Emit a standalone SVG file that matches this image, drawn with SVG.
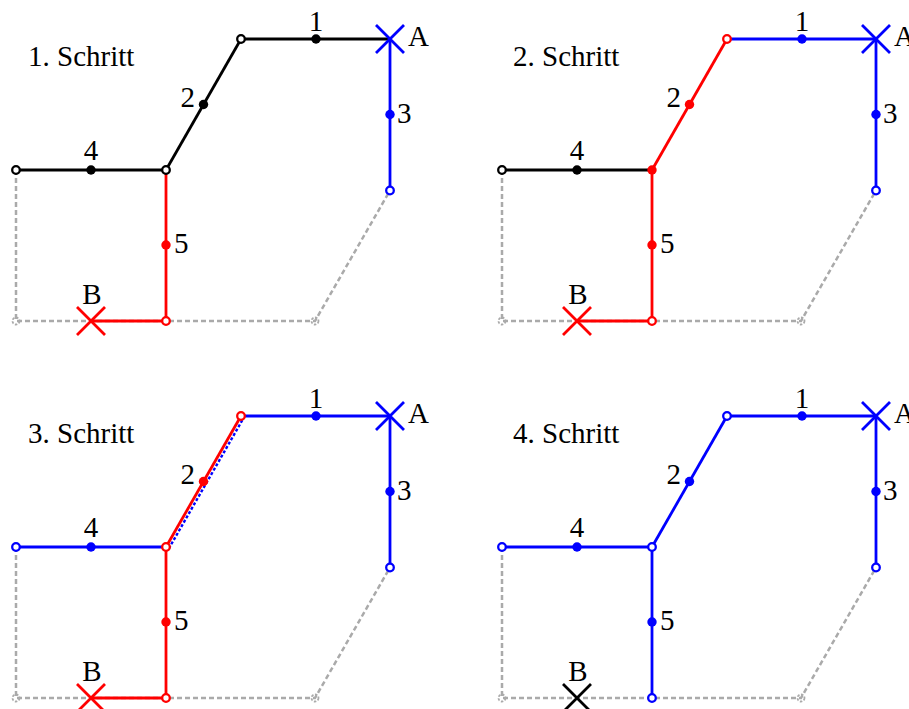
<svg xmlns="http://www.w3.org/2000/svg" width="909" height="709" viewBox="0 0 909 709">
<style>
  text { font-family: "Liberation Serif", "Times New Roman", serif; font-size: 29px; fill: #000; }
  .t { font-size: 29px; }
  .ln { fill: none; stroke-width: 2.8; stroke-linecap: butt; }
  .gray { fill: none; stroke: #aaaaaa; stroke-width: 2.5; stroke-dasharray: 5 3; }
  .gc { fill: none; stroke: #aaaaaa; stroke-width: 1.8; stroke-dasharray: 2.5 1.5; }
  .k { stroke: #000; } .b { stroke: #0000ff; } .r { stroke: #ff0000; }
  .dk { fill: #000; } .db { fill: #0000ff; } .dr { fill: #ff0000; }
  .o { fill: #fff; stroke-width: 2.3; }
  .x { stroke-width: 2.8; fill: none; }
  .bd { fill: none; stroke: #0000ff; stroke-width: 2.4; stroke-dasharray: 3 2; }
  .mid { text-anchor: middle; } .end { text-anchor: end; }
</style>

<!-- Panel 1 -->
<g id="panel1">
  <text class="t" x="28" y="66">1. Schritt</text>
  <g id="p1-connectors">
    <path class="gray" d="M16,170 V321 H315 L390,190.5"/>
    <circle class="gc" cx="16" cy="321" r="3.5"/>
    <circle class="gc" cx="315" cy="321" r="3.5"/>
    <line class="ln k" x1="241" y1="39" x2="390" y2="39"/>
    <line class="ln k" x1="166" y1="170" x2="241" y2="39"/>
    <line class="ln k" x1="16" y1="170" x2="166" y2="170"/>
    <line class="ln b" x1="390" y1="39" x2="390" y2="190.5"/>
    <line class="ln r" x1="166" y1="170" x2="166" y2="321"/>
    <line class="ln r" x1="91" y1="321" x2="166" y2="321"/>
  </g>
  <g id="p1-n1"><circle class="dk" cx="316" cy="39" r="4.7"/><text class="mid" x="316" y="31">1</text></g>
  <g id="p1-n2"><circle class="dk" cx="203.5" cy="104.5" r="4.7"/><text class="end" x="195" y="107">2</text></g>
  <g id="p1-n3"><circle class="db" cx="390" cy="114.5" r="4.7"/><text x="397" y="123">3</text></g>
  <g id="p1-n4"><circle class="dk" cx="91" cy="170" r="4.7"/><text class="mid" x="91" y="160">4</text></g>
  <g id="p1-n5"><circle class="dr" cx="166" cy="245" r="4.7"/><text x="174" y="253">5</text></g>
  <g id="p1-tl"><circle class="o k" cx="241" cy="39" r="3.8"/></g>
  <g id="p1-j"><circle class="o k" cx="166" cy="170" r="3.8"/></g>
  <g id="p1-l"><circle class="o k" cx="16" cy="170" r="3.8"/></g>
  <g id="p1-r3"><circle class="o b" cx="390" cy="190.5" r="3.8"/></g>
  <g id="p1-bot"><circle class="o r" cx="166" cy="321" r="3.8"/></g>
  <g id="p1-A"><path class="x b" d="M376,25 L404,53 M376,53 L404,25"/><text x="408" y="46">A</text></g>
  <g id="p1-B"><path class="x r" d="M77,307 L105,335 M77,335 L105,307"/><text class="mid" x="92" y="304">B</text></g>
</g>

<!-- Panel 2 -->
<g id="panel2" transform="translate(486,0)">
  <text class="t" x="27" y="66">2. Schritt</text>
  <g id="p2-connectors">
    <path class="gray" d="M16,170 V321 H315 L390,190.5"/>
    <circle class="gc" cx="16" cy="321" r="3.5"/>
    <circle class="gc" cx="315" cy="321" r="3.5"/>
    <line class="ln b" x1="241" y1="39" x2="390" y2="39"/>
    <line class="ln r" x1="166" y1="170" x2="241" y2="39"/>
    <line class="ln k" x1="16" y1="170" x2="166" y2="170"/>
    <line class="ln b" x1="390" y1="39" x2="390" y2="190.5"/>
    <line class="ln r" x1="166" y1="170" x2="166" y2="321"/>
    <line class="ln r" x1="91" y1="321" x2="166" y2="321"/>
  </g>
  <g id="p2-n1"><circle class="db" cx="316" cy="39" r="4.7"/><text class="mid" x="316" y="31">1</text></g>
  <g id="p2-n2"><circle class="dr" cx="203.5" cy="104.5" r="4.7"/><text class="end" x="195" y="107">2</text></g>
  <g id="p2-n3"><circle class="db" cx="390" cy="114.5" r="4.7"/><text x="397" y="123">3</text></g>
  <g id="p2-n4"><circle class="dk" cx="91" cy="170" r="4.7"/><text class="mid" x="91" y="160">4</text></g>
  <g id="p2-n5"><circle class="dr" cx="166" cy="245" r="4.7"/><text x="174" y="253">5</text></g>
  <g id="p2-tl"><circle class="o r" cx="241" cy="39" r="3.8"/></g>
  <g id="p2-j"><circle class="dr" cx="166" cy="170" r="4.7"/></g>
  <g id="p2-l"><circle class="o k" cx="16" cy="170" r="3.8"/></g>
  <g id="p2-r3"><circle class="o b" cx="390" cy="190.5" r="3.8"/></g>
  <g id="p2-bot"><circle class="o r" cx="166" cy="321" r="3.8"/></g>
  <g id="p2-A"><path class="x b" d="M376,25 L404,53 M376,53 L404,25"/><text x="408" y="46">A</text></g>
  <g id="p2-B"><path class="x r" d="M77,307 L105,335 M77,335 L105,307"/><text class="mid" x="92" y="304">B</text></g>
</g>

<!-- Panel 3 -->
<g id="panel3" transform="translate(0,377)">
  <text class="t" x="28" y="66">3. Schritt</text>
  <g id="p3-connectors">
    <path class="gray" d="M16,170 V321 H315 L390,190.5"/>
    <circle class="gc" cx="16" cy="321" r="3.5"/>
    <circle class="gc" cx="315" cy="321" r="3.5"/>
    <line class="ln b" x1="241" y1="39" x2="390" y2="39"/>
    <line class="bd" x1="168.8" y1="171.6" x2="243.8" y2="40.6"/>
    <line class="ln r" x1="166" y1="170" x2="241" y2="39"/>
    <line class="ln b" x1="16" y1="170" x2="166" y2="170"/>
    <line class="ln b" x1="390" y1="39" x2="390" y2="190.5"/>
    <line class="ln r" x1="166" y1="170" x2="166" y2="321"/>
    <line class="ln r" x1="91" y1="321" x2="166" y2="321"/>
  </g>
  <g id="p3-n1"><circle class="db" cx="316" cy="39" r="4.7"/><text class="mid" x="316" y="31">1</text></g>
  <g id="p3-n2"><circle class="dr" cx="203.5" cy="104.5" r="4.7"/><text class="end" x="195" y="107">2</text></g>
  <g id="p3-n3"><circle class="db" cx="390" cy="114.5" r="4.7"/><text x="397" y="123">3</text></g>
  <g id="p3-n4"><circle class="db" cx="91" cy="170" r="4.7"/><text class="mid" x="91" y="160">4</text></g>
  <g id="p3-n5"><circle class="dr" cx="166" cy="245" r="4.7"/><text x="174" y="253">5</text></g>
  <g id="p3-tl"><circle class="o r" cx="241" cy="39" r="3.8"/></g>
  <g id="p3-j"><circle class="o r" cx="166" cy="170" r="3.8"/></g>
  <g id="p3-l"><circle class="o b" cx="16" cy="170" r="3.8"/></g>
  <g id="p3-r3"><circle class="o b" cx="390" cy="190.5" r="3.8"/></g>
  <g id="p3-bot"><circle class="o r" cx="166" cy="321" r="3.8"/></g>
  <g id="p3-A"><path class="x b" d="M376,25 L404,53 M376,53 L404,25"/><text x="408" y="46">A</text></g>
  <g id="p3-B"><path class="x r" d="M77,307 L105,335 M77,335 L105,307"/><text class="mid" x="92" y="304">B</text></g>
</g>

<!-- Panel 4 -->
<g id="panel4" transform="translate(486,377)">
  <text class="t" x="27" y="66">4. Schritt</text>
  <g id="p4-connectors">
    <path class="gray" d="M16,170 V321 H315 L390,190.5"/>
    <circle class="gc" cx="16" cy="321" r="3.5"/>
    <circle class="gc" cx="315" cy="321" r="3.5"/>
    <line class="ln b" x1="241" y1="39" x2="390" y2="39"/>
    <line class="ln b" x1="166" y1="170" x2="241" y2="39"/>
    <line class="ln b" x1="16" y1="170" x2="166" y2="170"/>
    <line class="ln b" x1="390" y1="39" x2="390" y2="190.5"/>
    <line class="ln b" x1="166" y1="170" x2="166" y2="321"/>
  </g>
  <g id="p4-n1"><circle class="db" cx="316" cy="39" r="4.7"/><text class="mid" x="316" y="31">1</text></g>
  <g id="p4-n2"><circle class="db" cx="203.5" cy="104.5" r="4.7"/><text class="end" x="195" y="107">2</text></g>
  <g id="p4-n3"><circle class="db" cx="390" cy="114.5" r="4.7"/><text x="397" y="123">3</text></g>
  <g id="p4-n4"><circle class="db" cx="91" cy="170" r="4.7"/><text class="mid" x="91" y="160">4</text></g>
  <g id="p4-n5"><circle class="db" cx="166" cy="245" r="4.7"/><text x="174" y="253">5</text></g>
  <g id="p4-tl"><circle class="o b" cx="241" cy="39" r="3.8"/></g>
  <g id="p4-j"><circle class="o b" cx="166" cy="170" r="3.8"/></g>
  <g id="p4-l"><circle class="o b" cx="16" cy="170" r="3.8"/></g>
  <g id="p4-r3"><circle class="o b" cx="390" cy="190.5" r="3.8"/></g>
  <g id="p4-bot"><circle class="o b" cx="166" cy="321" r="3.8"/></g>
  <g id="p4-A"><path class="x b" d="M376,25 L404,53 M376,53 L404,25"/><text x="408" y="46">A</text></g>
  <g id="p4-B"><path class="x k" d="M77,307 L105,335 M77,335 L105,307"/><text class="mid" x="92" y="304">B</text></g>
</g>
</svg>
